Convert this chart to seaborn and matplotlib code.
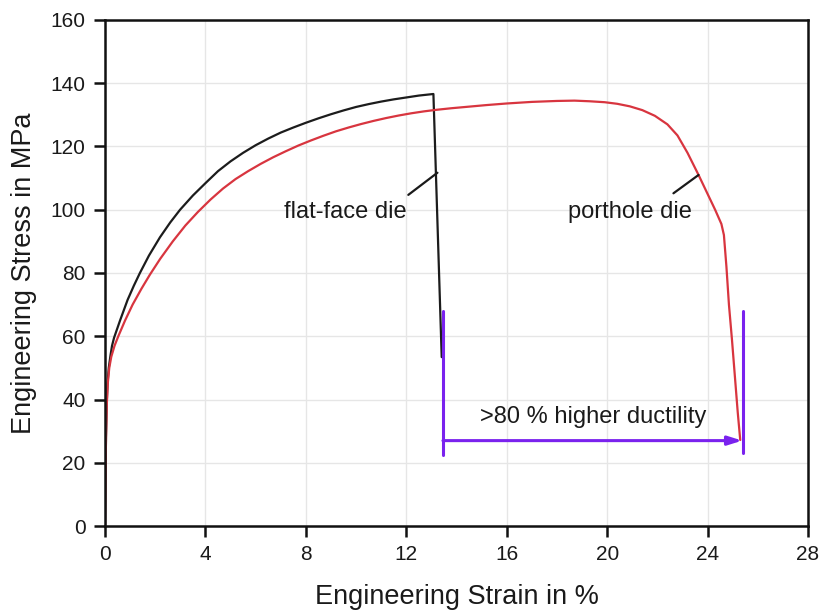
import numpy as np
import pandas as pd
import matplotlib
matplotlib.use("Agg")
import matplotlib.pyplot as plt
import seaborn as sns

# ---- data ----
flat_strain = [0, 0.02, 0.04, 0.07, 0.1, 0.15, 0.22, 0.28, 0.36, 0.6, 0.9, 1.15, 1.39, 1.75,
               2.19, 2.6, 2.99, 3.5, 4.0, 4.5, 5.0, 5.5, 6.0, 6.5, 7.0, 7.5, 8.0, 8.5, 9.0,
               9.5, 10.0, 10.5, 11.0, 11.5, 12.0, 12.5, 13.08, 13.41]
flat_stress = [0, 15, 28, 39, 45, 50, 54, 57, 59.5, 65, 71.5, 76, 80, 85.5,
               91.3, 96, 100, 104.5, 108.4, 112.2, 115.3, 118.0, 120.4, 122.5, 124.4, 126.0,
               127.5, 128.9, 130.2, 131.4, 132.5, 133.4, 134.2, 134.9, 135.5, 136.1, 136.6, 53.4]

port_strain = [0, 0.02, 0.04, 0.07, 0.11, 0.17, 0.25, 0.38, 0.53, 0.8, 1.1, 1.45, 1.79, 2.2,
               2.7, 3.2, 3.7, 4.2, 4.7, 5.2, 5.7, 6.2, 6.7, 7.2, 7.7, 8.2, 8.7, 9.2, 9.7,
               10.2, 10.7, 11.2, 11.7, 12.2, 12.7, 13.2, 13.8, 14.5, 15.2, 16.0, 17.0, 18.0,
               18.7, 19.3, 19.9, 20.4, 20.9, 21.4, 21.9, 22.4, 22.8, 23.2, 23.64, 24.0, 24.3,
               24.55, 24.65, 24.75, 24.85, 24.97, 25.1, 25.2, 25.3]
port_stress = [0, 15, 28, 38, 45, 50, 53.5, 57, 60, 65, 70, 75, 79.5, 84.5,
               90, 95, 99.3, 103.2, 106.7, 109.7, 112.2, 114.5, 116.6, 118.5, 120.3, 121.9,
               123.4, 124.8, 126.0, 127.1, 128.1, 129.0, 129.8, 130.5, 131.1, 131.6, 132.1,
               132.6, 133.1, 133.6, 134.1, 134.4, 134.5, 134.3, 134.0, 133.5, 132.7, 131.5,
               129.7, 127.0, 123.5, 118.0, 111.0, 105.0, 100.0, 95.5, 92.0, 82.0, 70.0, 59.0,
               46.0, 36.0, 27.2]

series_labels = ["flat-face die", "porthole die"]
ductility_text = ">80 % higher ductility"
x_ticks = [0, 4, 8, 12, 16, 20, 24, 28]
y_ticks = [0, 20, 40, 60, 80, 100, 120, 140, 160]

df = pd.concat([
    pd.DataFrame({"strain": flat_strain, "stress": flat_stress, "die": series_labels[0]}),
    pd.DataFrame({"strain": port_strain, "stress": port_stress, "die": series_labels[1]}),
], ignore_index=True)

sns.set_theme(style="whitegrid")
plt.rcParams["font.family"] = ["Liberation Sans", "DejaVu Sans"]

fig = plt.figure(figsize=(8.19, 6.13), dpi=100)
ax = fig.add_axes([0.1282, 0.1419, 0.8584, 0.8255])

sns.lineplot(data=df, x="strain", y="stress", hue="die", sort=False, estimator=None,
             palette={series_labels[0]: "#1c1c1c", series_labels[1]: "#d8353f"},
             linewidth=1.6, legend=False, ax=ax)
for ln in ax.get_lines():
    ln.set_solid_joinstyle("round")

ax.set_xticks(x_ticks)
ax.set_yticks(y_ticks)
ax.set_xlim(0, 28)
ax.set_ylim(0, 160)

ax.grid(True, color="#e6e6e6", linewidth=1.0)
for s in ax.spines.values():
    s.set_visible(True)
    s.set_color("#111111")
    s.set_linewidth(1.8)
ax.tick_params(axis="both", direction="out", length=8, width=1.8, color="#111111",
               labelsize=15, labelcolor="#1a1a1a", pad=6, bottom=True, left=True)

ax.set_xlabel("Engineering Strain in %", fontsize=19.5, color="#1a1a1a", labelpad=14)
ax.set_ylabel("Engineering Stress in MPa", fontsize=19.5, color="#1a1a1a", labelpad=10)

# annotations
ax.text(9.56, 99.3, series_labels[0], fontsize=17, ha="center", va="center", color="#1a1a1a")
ax.plot([12.08, 13.24], [104.7, 111.7], color="#1a1a1a", lw=1.6)
ax.text(20.9, 99.3, series_labels[1], fontsize=17, ha="center", va="center", color="#1a1a1a")
ax.plot([22.64, 23.64], [105.2, 111.0], color="#1a1a1a", lw=1.6)

purple = "#7a22ee"
ax.plot([13.46, 13.46], [22.4, 68.0], color=purple, lw=2.2)
ax.plot([25.42, 25.42], [23.0, 68.0], color=purple, lw=2.2)
ax.annotate("", xy=(25.38, 27.0), xytext=(13.46, 27.0),
            arrowprops=dict(arrowstyle="-|>,head_length=0.7,head_width=0.22",
                            color=purple, lw=2.2, shrinkA=0, shrinkB=0))
ax.text(19.45, 34.5, ductility_text, fontsize=17, ha="center", va="center", color="#1a1a1a")

fig.savefig("out.png", dpi=100)
